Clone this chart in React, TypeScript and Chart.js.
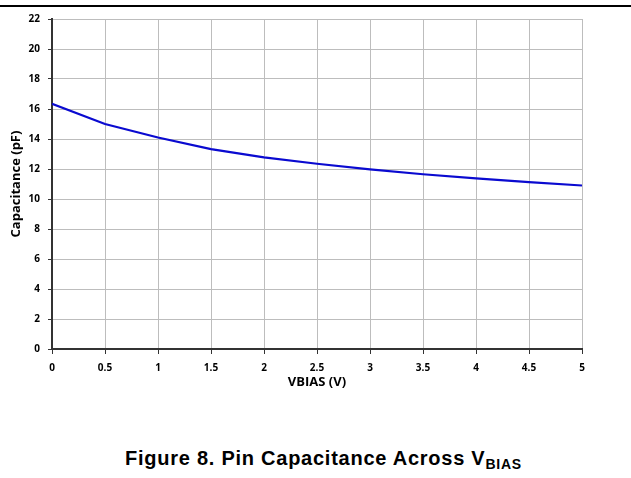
import React, { useEffect, useRef } from "react";
import { Chart, registerables } from "chart.js";

Chart.register(...registerables);

const vbias = [0, 0.5, 1, 1.5, 2, 2.5, 3, 3.5, 4, 4.5, 5];
const capacitance = [16.35, 15.0, 14.1, 13.33, 12.78, 12.35, 11.98, 11.65, 11.38, 11.12, 10.9];
const xTitle = "VBIAS (V)";
const yTitle = "Capacitance (pF)";

export default function App() {
  const ref = useRef<HTMLCanvasElement | null>(null);

  useEffect(() => {
    if (!ref.current) return;
    const tickFont = { family: "'Open Sans'", size: 10, weight: "bold" as const };
    const titleFont = { family: "'Open Sans'", size: 13, weight: "bold" as const };
    const chart = new Chart(ref.current, {
      type: "line",
      data: {
        datasets: [
          {
            data: vbias.map((x, i) => ({ x, y: capacitance[i] })),
            borderColor: "#0a0ad0",
            borderWidth: 2.2,
            pointRadius: 0,
            tension: 0,
            fill: false,
          },
        ],
      },
      options: {
        animation: false,
        responsive: false,
        maintainAspectRatio: false,
        layout: { padding: { left: 4, right: 49, top: 19, bottom: 0 } },
        plugins: { legend: { display: false }, tooltip: { enabled: false } },
        scales: {
          x: {
            type: "linear",
            min: 0,
            max: 5,
            ticks: {
              stepSize: 0.5,
              font: tickFont,
              color: "#000",
              padding: 8,
              maxRotation: 0,
              autoSkip: false,
              callback: (v: any) => String(Number(v)),
            },
            grid: { color: "#bdbdbd", lineWidth: 1, tickColor: "#333", tickLength: 5 },
            border: { color: "#333", width: 2 },
            title: { display: true, text: xTitle, font: titleFont, color: "#000", padding: { top: 4, bottom: 4 } },
            afterFit: (s: any) => {
              s.height = 45;
            },
          },
          y: {
            min: 0,
            max: 22,
            ticks: { stepSize: 2, font: tickFont, color: "#000", padding: 8, callback: (v: any) => String(Number(v)) },
            grid: { color: "#bdbdbd", lineWidth: 1, tickColor: "#333", tickLength: 4 },
            border: { color: "#333", width: 2 },
            title: { display: true, text: yTitle, font: titleFont, color: "#000", padding: { top: 4, bottom: 4 } },
            afterFit: (s: any) => {
              s.width = 48;
            },
          },
        },
      },
    });
    return () => chart.destroy();
  }, []);

  return (
    <div style={{ position: "absolute", left: 0, top: 0, width: 631, height: 478, background: "#fff" }}>
      <div style={{ position: "absolute", left: 0, top: 5, width: 631, height: 2, background: "#000" }} />
      <canvas ref={ref} width={631} height={394} style={{ position: "absolute", left: 0, top: 0, width: 631, height: 394 }} />
      <div
        style={{
          position: "absolute",
          left: 125,
          top: 449,
          whiteSpace: "nowrap",
          fontFamily: "'Liberation Sans', Arial, sans-serif",
          fontWeight: "bold",
          fontSize: 20,
          lineHeight: "19px",
          letterSpacing: "0.75px",
          color: "#000",
        }}
      >
        Figure 8. Pin Capacitance Across V
        <span style={{ fontSize: 14, position: "relative", top: 4 }}>BIAS</span>
      </div>
    </div>
  );
}
